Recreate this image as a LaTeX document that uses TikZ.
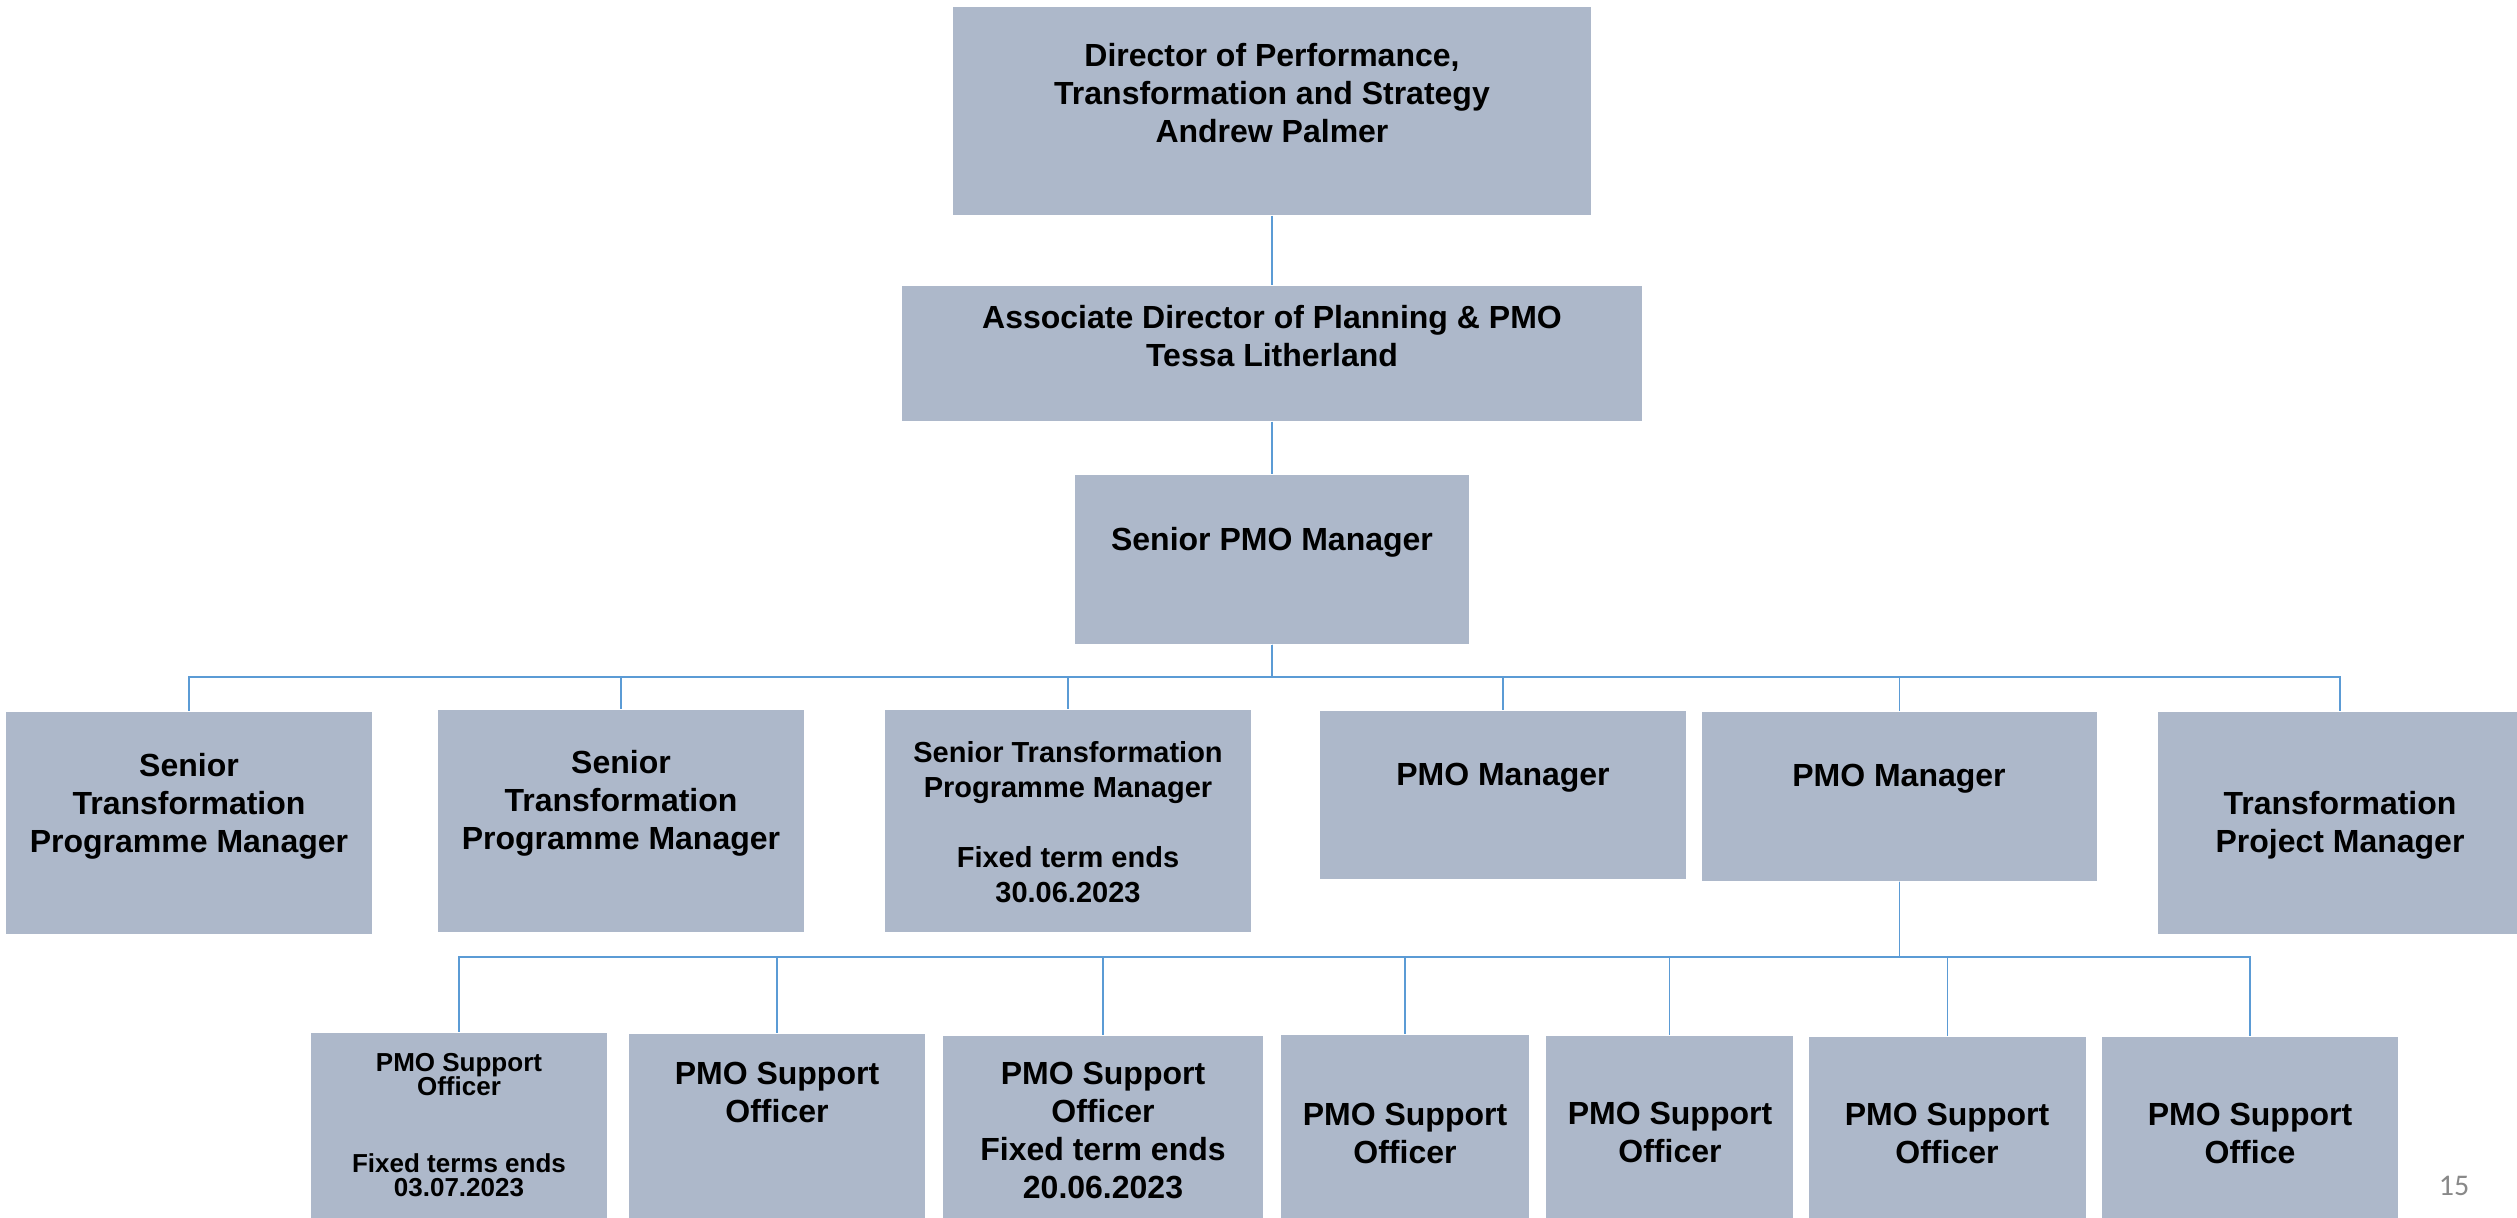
\documentclass[tikz,border=0pt]{standalone}
\usepackage{fontspec}
\setmainfont{Liberation Sans}
\newfontfamily\pagefont{Carlito}
\usetikzlibrary{fit}
\definecolor{boxfill}{RGB}{173,184,202}
\definecolor{linkblue}{RGB}{91,155,213}
\definecolor{pagegray}{RGB}{137,137,137}
\tikzset{
  orgbox/.style={fill=boxfill, draw=none, inner sep=0pt},
  lbl/.style={align=center, font=\bfseries\fontsize{9.6}{11.4}\selectfont, inner sep=0pt},
  lblsm/.style={align=center, font=\bfseries\fontsize{8.7}{10.5}\selectfont, inner sep=0pt},
  lblxs/.style={align=center, font=\bfseries\fontsize{7.8}{7.35}\selectfont, inner sep=0pt},
  conn/.style={draw=linkblue, line width=0.45pt},
}
\begin{document}
\begin{tikzpicture}[x=0.3pt, y=-0.3pt]
\useasboundingbox (0,0) rectangle (2517,1218);
% bus levels
\coordinate (bus1) at (0,677);
\coordinate (bus2) at (0,957);
% level 1-3
\node[orgbox, fit={(953,7) (1591,215)}] (dir) {};
\node[lbl] (dirT) at (1272,93) {Director of Performance,\\Transformation and Strategy\\Andrew Palmer};
\node[orgbox, fit={(902,286) (1642,421)}] (asc) {};
\node[lbl] (ascT) at (1272,336) {Associate Director of Planning \& PMO\\Tessa Litherland};
\node[orgbox, fit={(1075,475) (1469,644)}] (spm) {};
\node[lbl] (spmT) at (1272,542) {Senior PMO Manager};
% level 4
\node[orgbox, fit={(6,712) (372,934)}] (stA) {};
\node[lbl] (stAT) at (189,806) {Senior\\Transformation\\Programme Manager};
\node[orgbox, fit={(438,710) (804,932)}] (stB) {};
\node[lbl] (stBT) at (621,803) {Senior\\Transformation\\Programme Manager};
\node[orgbox, fit={(885,710) (1251,932)}] (stC) {};
\node[lblsm] (stCT) at (1068,822) {Senior Transformation\\Programme Manager\\[10.5pt]Fixed term ends\\30.06.2023};
\node[orgbox, fit={(1320,711) (1686,879)}] (pmA) {};
\node[lbl] (pmAT) at (1503,778) {PMO Manager};
\node[orgbox, fit={(1702,712) (2097,881)}] (pmB) {};
\node[lbl] (pmBT) at (1899,779) {PMO Manager};
\node[orgbox, fit={(2158,712) (2522,934)}] (tpm) {};
\node[lbl] (tpmT) at (2340,825) {Transformation\\Project Manager};
% level 5
\node[orgbox, fit={(311,1033) (607,1218)}] (soA) {};
\node[lblxs] (soAT) at (459,1125) {PMO Support\\Officer\\[15.6pt]Fixed terms ends\\03.07.2023};
\node[orgbox, fit={(629,1034) (925,1218)}] (soB) {};
\node[lbl] (soBT) at (777,1092) {PMO Support\\Officer};
\node[orgbox, fit={(943,1036) (1263,1218)}] (soC) {};
\node[lbl] (soCT) at (1103,1130) {PMO Support\\Officer\\Fixed term ends\\20.06.2023};
\node[orgbox, fit={(1281,1035) (1529,1218)}] (soD) {};
\node[lbl] (soDT) at (1405,1133) {PMO Support\\Officer};
\node[orgbox, fit={(1546,1036) (1793,1218)}] (soE) {};
\node[lbl] (soET) at (1670,1132) {PMO Support\\Officer};
\node[orgbox, fit={(1809,1037) (2086,1218)}] (soF) {};
\node[lbl] (soFT) at (1947,1133) {PMO Support\\Officer};
\node[orgbox, fit={(2102,1037) (2398,1218)}] (soG) {};
\node[lbl] (soGT) at (2250,1133) {PMO Support\\Office};
% page number
\node[font=\pagefont\fontsize{9}{10}\selectfont, text=pagegray, inner sep=0pt] (pg) at (2454,1186) {15};
% connectors
\draw[conn] (dir.south) -- (asc.north);
\draw[conn] (asc.south) -- (spm.north);
\foreach \c in {stA,stB,stC,pmA,pmB,tpm}
  \draw[conn] (spm.south) -- (spm.south |- bus1) -| (\c.north);
\foreach \c in {soA,soB,soC,soD,soE,soF,soG}
  \draw[conn] (pmB.south) -- (pmB.south |- bus2) -| (\c.north);
\end{tikzpicture}
\end{document}
